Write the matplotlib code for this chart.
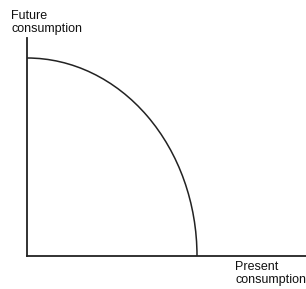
import matplotlib
matplotlib.use('Agg')
import matplotlib.pyplot as plt
from matplotlib.patches import Arc

# production possibilities frontier (quarter ellipse), axis units
present_max = 170   # x-intercept
future_max = 198    # y-intercept
x_limit = 279
y_limit = 218

y_label = "Future\nconsumption"
x_label = "Present\nconsumption"

W, H = 306, 289
fig = plt.figure(figsize=(W / 100, H / 100), dpi=100)
ax = fig.add_axes([27 / W, 33 / H, 279 / W, 218 / H])
ax.set_xlim(0, x_limit)
ax.set_ylim(0, y_limit)

ink = '#222222'
ax.add_patch(Arc((0, 0), 2 * present_max, 2 * future_max, theta1=0, theta2=90,
                 color=ink, lw=1.1))

for side in ['top', 'right']:
    ax.spines[side].set_visible(False)
for side in ['left', 'bottom']:
    ax.spines[side].set_color(ink)
    ax.spines[side].set_linewidth(1.3)
ax.set_xticks([])
ax.set_yticks([])

fig.text(11 / W, 1 - 10 / H, y_label, ha='left', va='top', fontsize=9,
         family='Liberation Sans', color='#111111', linespacing=1.12)
fig.text(235 / W, 1 - 261 / H, x_label, ha='left', va='top', fontsize=9,
         family='Liberation Sans', color='#111111', linespacing=1.12)

fig.savefig('out.png', dpi=100)
